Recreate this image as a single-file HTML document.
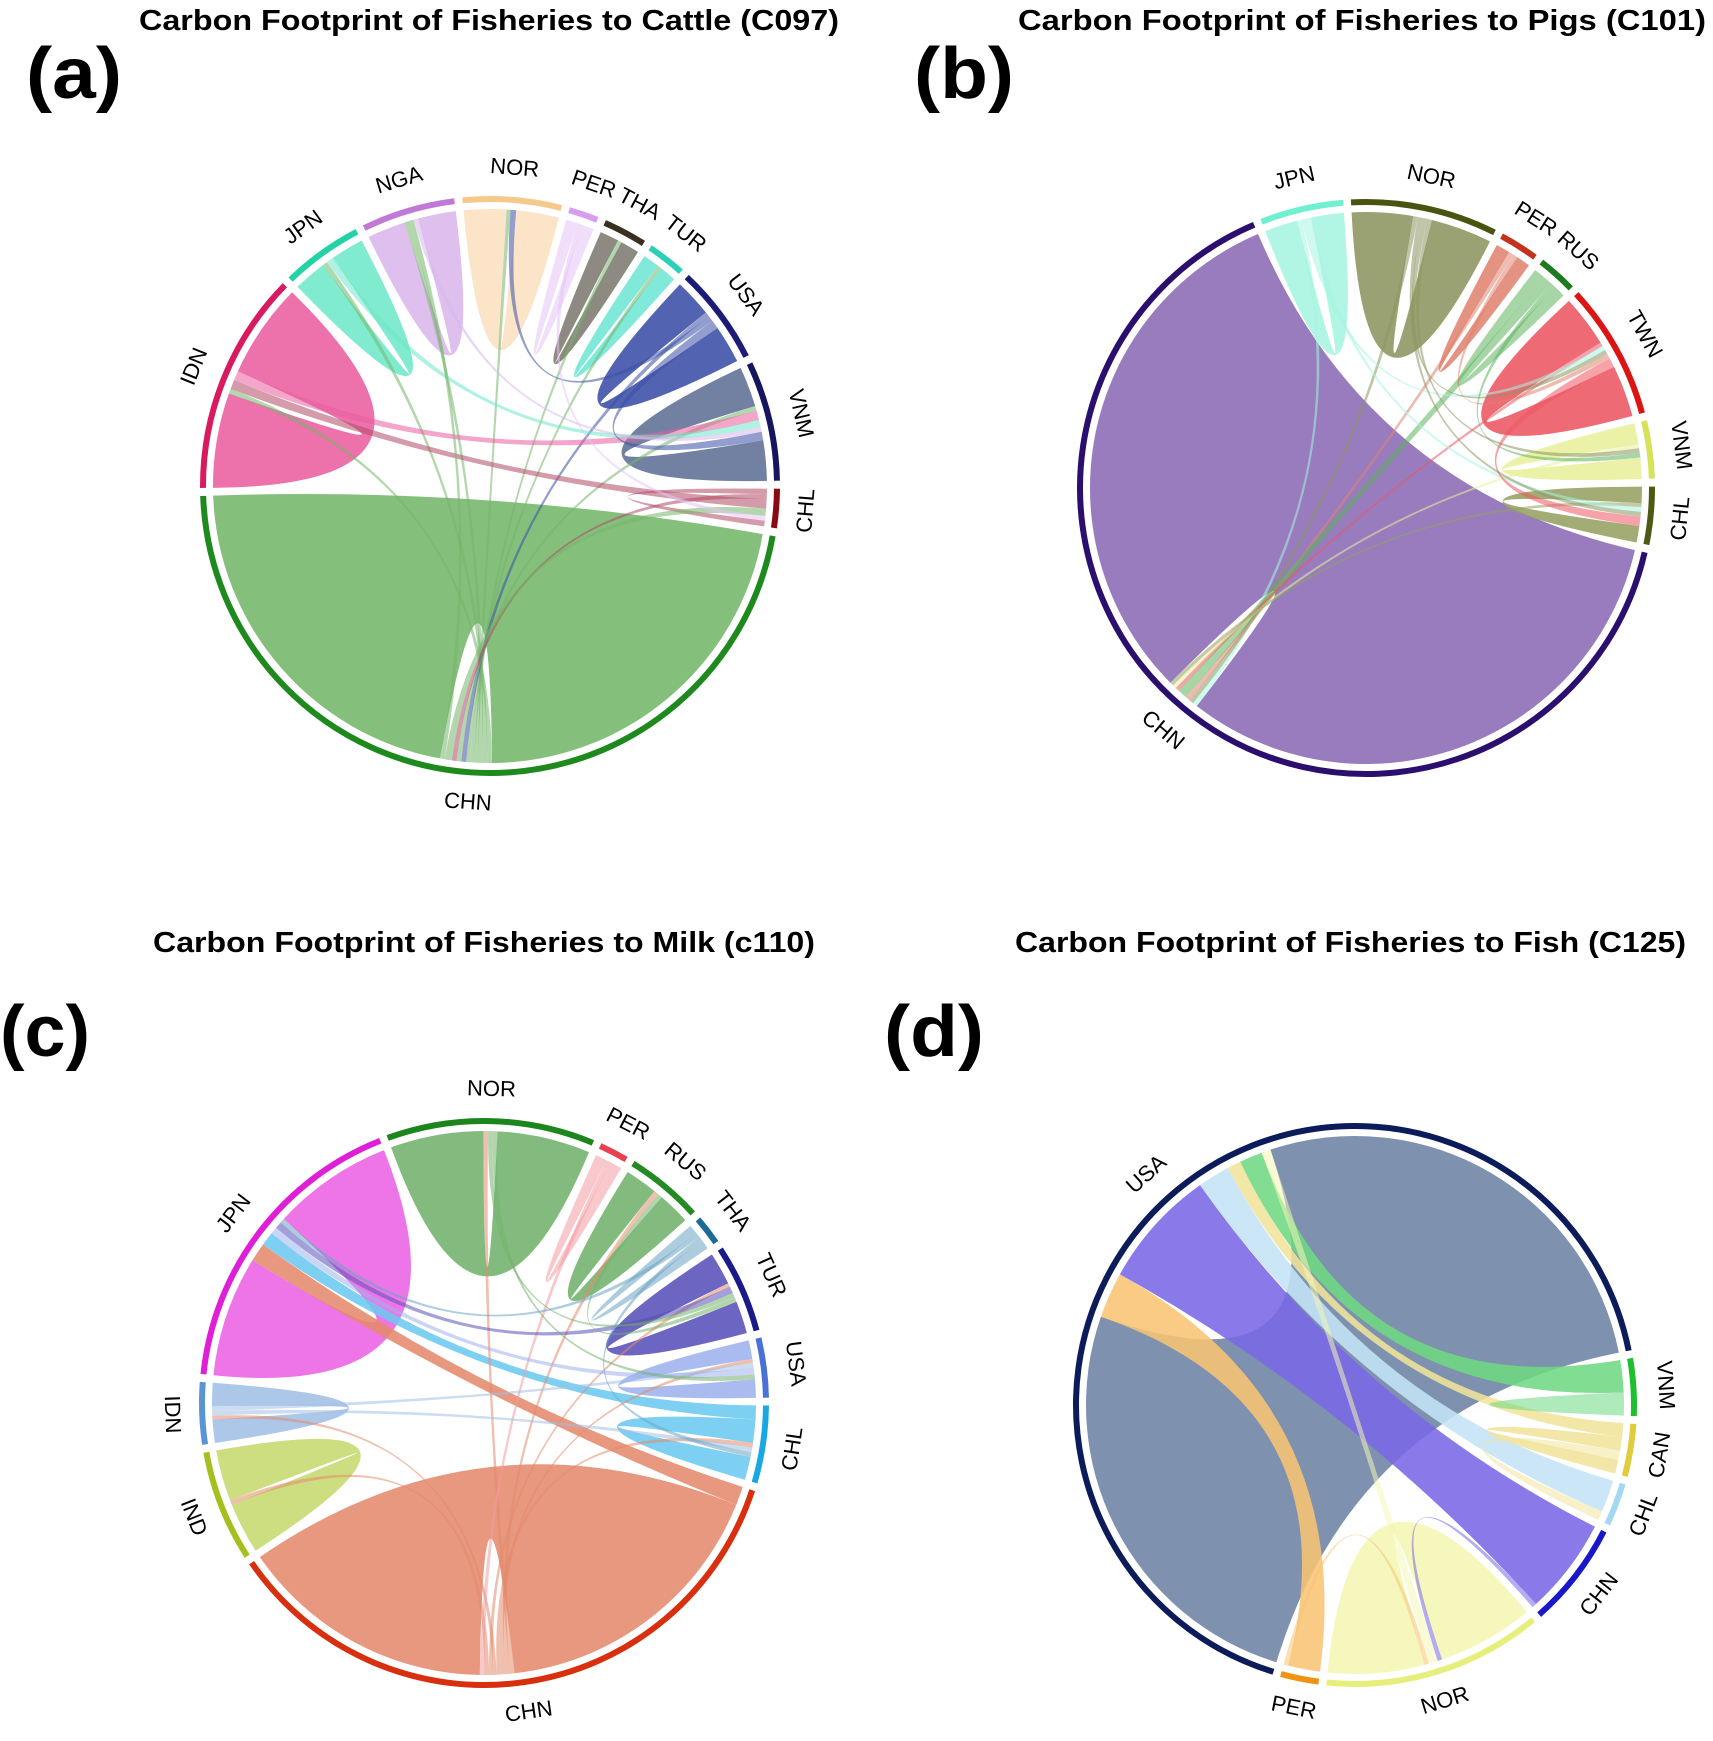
<!DOCTYPE html>
<html><head><meta charset="utf-8"><style>
html,body{margin:0;padding:0;background:#fff;}
svg{display:block;font-family:"Liberation Sans",sans-serif;}
</style></head><body>
<svg id="chart" width="1713" height="1741" viewBox="0 0 1713 1741">
<text x="139" y="30" textLength="700" lengthAdjust="spacingAndGlyphs" font-weight="bold" font-size="29">Carbon Footprint of Fisheries to Cattle (C097)</text>
<text x="1018" y="30" textLength="688" lengthAdjust="spacingAndGlyphs" font-weight="bold" font-size="29">Carbon Footprint of Fisheries to Pigs (C101)</text>
<text x="153" y="952" textLength="662" lengthAdjust="spacingAndGlyphs" font-weight="bold" font-size="29">Carbon Footprint of Fisheries to Milk (c110)</text>
<text x="1015" y="952" textLength="671" lengthAdjust="spacingAndGlyphs" font-weight="bold" font-size="29">Carbon Footprint of Fisheries to Fish (C125)</text>
<text x="26" y="98" textLength="96" lengthAdjust="spacingAndGlyphs" font-weight="bold" font-size="72">(a)</text>
<text x="914" y="98" textLength="100" lengthAdjust="spacingAndGlyphs" font-weight="bold" font-size="72">(b)</text>
<text x="0" y="1056" textLength="90" lengthAdjust="spacingAndGlyphs" font-weight="bold" font-size="72">(c)</text>
<text x="884" y="1056" textLength="100" lengthAdjust="spacingAndGlyphs" font-weight="bold" font-size="72">(d)</text>
</svg>
<script>
// ---- Panel (a) Cattle ----
const aSectors = ["CHN","IDN","JPN","NGA","NOR","PER","THA","TUR","USA","VNM","CHL"];
const aTrack = ["#1e8a1e","#d81b60","#22d3a6","#c07ad6","#f5c98a","#d79cf0","#3b3020","#2bcfb5","#1c1c78","#16165e","#8a0a14"];
const aFill = ["#74b66a","#ea5d9f","#6fe8c8","#d9b6ec","#fbe0c0","#e6c2f6","#7d7a70","#6fe6d4","#3a4ea6","#5e6e94","#b04a64"];
const aLinks = [
 ["CHN","CHN",80,78],["IDN","IDN",20,20],["JPN","JPN",7,7],["NGA","NGA",8,8],["NOR","NOR",9,9],
 ["PER","PER",2.5,2.5],["THA","THA",4,4],["TUR","TUR",3.5,3.5],["USA","USA",8,8],["VNM","VNM",8.5,8.5],["CHL","CHL",1.2,1.2],
 ["CHN","IDN",1,1],["CHN","JPN",1,1],["CHN","NGA",1,1],["CHN","NOR",0.8,0.8],["CHN","THA",0.8,0.8],["CHN","TUR",0.8,0.8],
 ["USA","CHN",1,1],["CHN","VNM",1,1],["CHL","CHN",1,1],
 ["CHL","IDN",2,2],["IDN","VNM",2,2],["CHN","CHL",1.5,1.5],["JPN","VNM",1.5,1.5],["CHN","NGA",1,1],["NGA","VNM",1,1],
 ["USA","NOR",1.2,1.2],["PER","CHL",1,1],["USA","VNM",1.8,1.8]
];
// ---- Panel (b) Pigs ----
const bSectors = ["CHN","JPN","NOR","PER","RUS","TWN","VNM","CHL"];
const bTrack = ["#2a0f6e","#6ff0d0","#4a5410","#c4321e","#1e7a1e","#dc1414","#d6e258","#4c5a14"];
const bFill = ["#8a6ab4","#a6f4e0","#8c9560","#e08370","#5db25d","#ec5562","#e8f09c","#96a062"];
const bLinks = [
 ["CHN","CHN",116,113],["JPN","JPN",7,7],["NOR","NOR",13,13],["PER","PER",3,3],["RUS","RUS",2.5,2.5],
 ["TWN","TWN",11,11],["VNM","VNM",4.5,4.5],["CHL","CHL",3.5,3.5],
 ["JPN","CHN",1,1],["NOR","CHN",1,1],["PER","CHN",1,1],["RUS","CHN",2,2],["TWN","CHN",0.8,0.8],["VNM","CHN",0.8,0.8],["CHL","CHN",0.8,0.8],
 ["JPN","TWN",1,1],["JPN","CHL",1,1],["NOR","CHL",1,1],["NOR","TWN",1,1],["NOR","VNM",1,1],["PER","TWN",1,1],
 ["RUS","VNM",1,1],["TWN","CHL",2,2]
];
// ---- Panel (c) Milk ----
const cSectors = ["CHN","IND","IDN","JPN","NOR","PER","RUS","THA","TUR","USA","CHL"];
const cTrack = ["#d8300e","#a6bf1e","#5b94d2","#e01ed8","#1c861c","#e84050","#248a24","#1d6a98","#1a1a88","#4a72d6","#19a8e2"];
const cFill = ["#e48a6c","#c6da6e","#a2bfe6","#ec62e4","#72b26c","#f29aa2","#72b26c","#6aa4c4","#5850b8","#9eb2ee","#6ccaf0"];
const cLinks = [
 ["JPN","JPN",26,26],["CHN","JPN",4,4],["CHL","JPN",3,3],["CHN","CHN",62,55],
 ["IND","IND",11,11],["IDN","IDN",5,5],["NOR","NOR",20,20],["PER","PER",2.5,2.5],["RUS","RUS",7,7],
 ["THA","THA",2,2],["TUR","TUR",7,7],["USA","USA",4,4],["CHL","CHL",5,5],
 ["CHN","NOR",1,1],["CHN","RUS",1,1],["CHN","USA",0.8,0.8],["CHN","CHL",1,1],["CHN","IDN",0.8,0.8],["CHN","TUR",0.8,0.8],
 ["CHN","IND",1,1],["PER","CHN",1,1],
 ["IDN","CHL",1,1],["IDN","USA",1,1],["USA","JPN",1.5,1.5],["TUR","JPN",1.5,1.5],["NOR","TUR",1,1],["NOR","USA",1,1],
 ["RUS","TUR",1,1],["THA","JPN",1,1],["THA","CHL",1,1]
];
// ---- Panel (d) Fish ----
const dSectors = ["USA","VNM","CAN","CHL","CHN","NOR","PER"];
const dTrack = ["#0c1c5a","#1ec030","#e0cc3c","#a4d8f2","#1818c8","#e6ef7c","#f09410"];
const dFill = ["#6c82a4","#6ed882","#f0e49a","#c4e4f6","#7a68e6","#f4f6b4","#f8c474"];
const dLinks = [
 ["USA","USA",93,98],["PER","USA",7,10],["CHN","USA",21,26],["CHL","USA",7,7],["CAN","USA",3,3],["VNM","USA",7,5],
 ["VNM","VNM",2.5,2.5],["CAN","CAN",3,3],["CAN","CHL",2,2],["NOR","NOR",21,21],["CHN","NOR",1,1],["NOR","USA",2,2],["PER","NOR",1,1]
];

const svg = document.getElementById('chart');
const NS = "http://www.w3.org/2000/svg";
function P(cx,cy,r,deg){const t=deg*Math.PI/180;return [cx+r*Math.sin(t),cy-r*Math.cos(t)];}
function f(p){return p[0].toFixed(2)+","+p[1].toFixed(2);}

function drawPanel(id,cx,cy,R,start,sectors,track,fill,links){
  const g=document.createElementNS(NS,'g');
  
  
  svg.appendChild(g);
  const n=sectors.length, gap=1.6;
  const sums=sectors.map(()=>0);
  links.forEach(l=>{sums[sectors.indexOf(l[0])]+=l[2];sums[sectors.indexOf(l[1])]+=l[3];});
  const total=sums.reduce((a,b)=>a+b,0);
  const k=(360-n*gap)/total;
  const sStart=[],sEnd=[],cursor=[];
  let a=start;
  for(let i=0;i<n;i++){sStart.push(a);sEnd.push(a+sums[i]*k);cursor.push(a);a+=sums[i]*k+gap;}
  function take(si,v){const a0=cursor[si];cursor[si]+=v*k;return [a0,cursor[si]];}
  const ends=[],deferred=[];
  links.forEach((l,idx)=>{
    const si=sectors.indexOf(l[0]),ti=sectors.indexOf(l[1]);
    const e={s:take(si,l[2]),t:null,c:fill[si],v:Math.min(l[2],l[3])};
    if(si===ti){deferred.push([e,ti,l[3]]);}else{e.t=take(ti,l[3]);}
    ends.push(e);
  });
  deferred.forEach(d=>{d[0].t=take(d[1],d[2]);});
  const rr=R-10;
  ends.forEach((e,i)=>{
    const [s0,s1]=e.s,[t0,t1]=e.t;
    const C=f([cx,cy]);
    const la=(x,y)=>(y-x>180?1:0);
    const d="M"+f(P(cx,cy,rr,s0))+" A"+rr+","+rr+" 0 "+la(s0,s1)+" 1 "+f(P(cx,cy,rr,s1))+
      " Q"+C+" "+f(P(cx,cy,rr,t0))+" A"+rr+","+rr+" 0 "+la(t0,t1)+" 1 "+f(P(cx,cy,rr,t1))+
      " Q"+C+" "+f(P(cx,cy,rr,s0))+"Z";
    const p=document.createElementNS(NS,'path');
    p.setAttribute('d',d);
    p.setAttribute('fill',e.c);
    p.setAttribute('fill-opacity',e.v<2.6?0.55:0.88);
    
    
    g.appendChild(p);
  });
  for(let i=0;i<n;i++){
    const a0=sStart[i],a1=sEnd[i];
    const arc=document.createElementNS(NS,'path');
    arc.setAttribute('d',"M"+f(P(cx,cy,R,a0))+" A"+R+","+R+" 0 "+(a1-a0>180?1:0)+" 1 "+f(P(cx,cy,R,a1)));
    arc.setAttribute('fill','none');
    arc.setAttribute('stroke',track[i]);
    arc.setAttribute('stroke-width','6');
    
    
    g.appendChild(arc);
    const m=(a0+a1)/2, mm=((m%360)+360)%360;
    const lp=P(cx,cy,R+31,m);
    const rot=(mm>90&&mm<270)?mm-180:mm;
    const t=document.createElementNS(NS,'text');
    t.setAttribute('x',lp[0].toFixed(1));
    t.setAttribute('y',lp[1].toFixed(1));
    t.setAttribute('text-anchor','middle');
    t.setAttribute('dominant-baseline','middle');
    t.setAttribute('font-size','22');
    t.setAttribute('transform','rotate('+rot.toFixed(1)+' '+lp[0].toFixed(1)+' '+lp[1].toFixed(1)+')');
    t.textContent=sectors[i];
    
    
    g.appendChild(t);
  }
}
drawPanel('cattle',490,486,287,100,aSectors,aTrack,aFill,aLinks);
drawPanel('pigs',1366,488,286,103,bSectors,bTrack,bFill,bLinks);
drawPanel('milk',484,1403,282,108,cSectors,cTrack,cFill,cLinks);
drawPanel('fish',1355,1405,279,197,dSectors,dTrack,dFill,dLinks);
</script>
</body></html>
